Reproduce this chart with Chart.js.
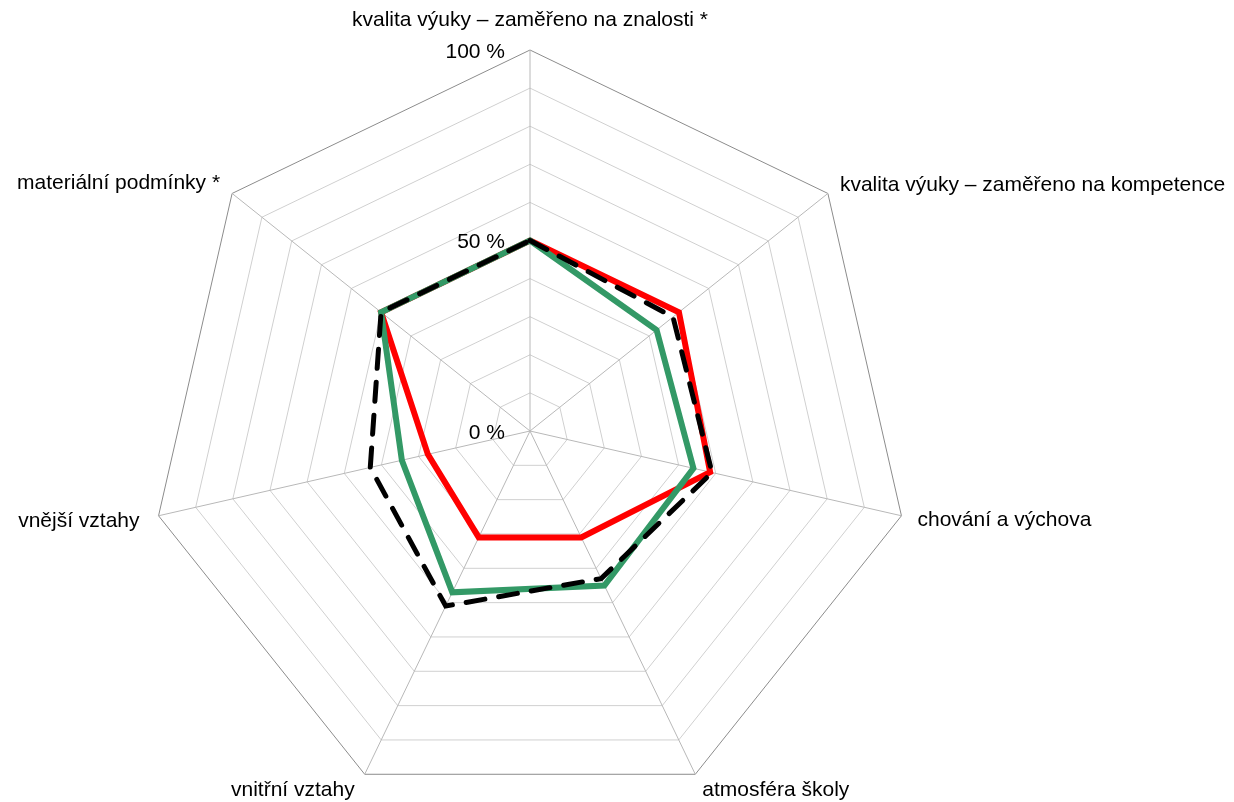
<!DOCTYPE html>
<html>
<head>
<meta charset="utf-8">
<script src="https://cdn.jsdelivr.net/npm/chart.js@4"></script>
<style>
  html, body { margin: 0; padding: 0; background: #ffffff; overflow: hidden; }
  #wrap { position: relative; width: 1234px; height: 812px; }
</style>
</head>
<body>
<div id="wrap"><canvas id="radar"></canvas></div>
<script>
// chart data
const categories = [
    'kvalita výuky – zaměřeno na znalosti *',
    'kvalita výuky – zaměřeno na kompetence',
    'chování a výchova',
    'atmosféra školy',
    'vnitřní vztahy',
    'vnější vztahy',
    'materiální podmínky *'
];
const redValues = [50, 50, 48.5, 31, 31, 27.5, 50];
const greenValues = [50, 42.5, 44, 45, 47, 34.5, 50];
const dashedValues = [50, 48, 49, 43, 51, 43, 50];
const tickValues = [0, 50, 100];
const tickLabels = ['0 %', '50 %', '100 %'];

(function() {
    const FONT = '21px "Liberation Sans", Arial, sans-serif';

    // label offset from the outer vertex: dx, dy, alignment
    const labelOffsets = [
        [0, -30, 'center'],
        [12, -8, 'left'],
        [16, 4, 'left'],
        [7, 16, 'left'],
        [-10, 16, 'right'],
        [-19, 5, 'right'],
        [-12, -10, 'right']
    ];

    // draws axis names and the percent labels next to the top spoke
    const axisText = {
        id: 'axisText',
        afterDraw(chart) {
            const r = chart.scales.r;
            const ctx = chart.ctx;
            ctx.save();
            ctx.font = FONT;
            ctx.fillStyle = '#000000';
            ctx.textBaseline = 'middle';
            categories.forEach(function(name, i) {
                const p = r.getPointPosition(i, r.drawingArea);
                const o = labelOffsets[i];
                ctx.textAlign = o[2];
                ctx.fillText(name, p.x + o[0], p.y + o[1]);
            });
            ctx.textAlign = 'right';
            tickValues.forEach(function(v, i) {
                const d = r.getDistanceFromCenterForValue(v);
                ctx.fillText(tickLabels[i], r.xCenter - 25, r.yCenter - d + 2);
            });
            ctx.restore();
        }
    };

    const ctxRadar = document.getElementById('radar').getContext('2d');

    new Chart(ctxRadar, {
        type: 'radar',
        data: {
            labels: categories,
            datasets: [{
                label: 'Série 1',
                data: redValues,
                borderColor: '#ff0000',
                borderWidth: 6,
                borderJoinStyle: 'miter',
                fill: false,
                pointRadius: 0,
                order: 3
            }, {
                label: 'Série 2',
                data: greenValues,
                borderColor: '#339966',
                borderWidth: 6,
                borderJoinStyle: 'miter',
                fill: false,
                pointRadius: 0,
                order: 2
            }, {
                label: 'Série 3',
                data: dashedValues,
                borderColor: '#000000',
                borderWidth: 5,
                borderDash: [19, 14],
                borderCapStyle: 'round',
                fill: false,
                pointRadius: 0,
                order: 1
            }]
        },
        options: {
            responsive: true,
            maintainAspectRatio: false,
            animation: false,
            layout: {
                padding: { top: 50, bottom: 0, left: 149, right: 323 }
            },
            elements: {
                line: { tension: 0 }
            },
            scales: {
                r: {
                    min: 0,
                    max: 100,
                    beginAtZero: true,
                    ticks: {
                        display: false,
                        stepSize: 10
                    },
                    pointLabels: {
                        display: false
                    },
                    grid: {
                        color: function(c) {
                            return c.tick && c.tick.value === 100 ? '#8c8c8c' : '#d0d0d0';
                        },
                        lineWidth: 1
                    },
                    angleLines: {
                        color: '#b8b8b8',
                        lineWidth: 1
                    }
                }
            },
            plugins: {
                legend: { display: false },
                tooltip: { enabled: false }
            }
        },
        plugins: [axisText]
    });
})();
</script>
</body>
</html>
